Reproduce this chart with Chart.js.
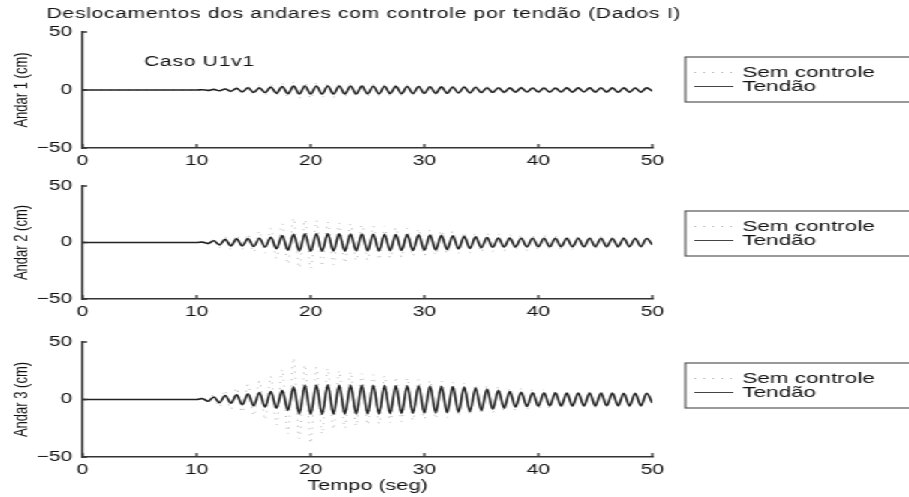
<!DOCTYPE html>
<html>
<head>
<meta charset="utf-8">
<title>Deslocamentos dos andares</title>
<script src="https://cdn.jsdelivr.net/npm/chart.js@4.4.1/dist/chart.umd.min.js"></script>
<style>
  html, body { margin: 0; padding: 0; background: #fff; overflow: hidden; }
  /* the figure is laid out narrow and widened 1.5x, fonts included */
  #figure { position: absolute; left: 0; top: 0; width: 606px; height: 497px; transform: scaleX(1.5); transform-origin: 0 0; }
  #figure canvas { position: absolute; left: 0; top: 0; width: 606px; height: 497px; }
</style>
</head>
<body>
<div id="figure">
  <canvas id="andar1" width="606" height="497"></canvas>
  <canvas id="andar2" width="606" height="497"></canvas>
  <canvas id="andar3" width="606" height="497"></canvas>
</div>
<script>
// time samples (s): flat until 10 s, then every half period
const times = [0,
  10, 10.5, 11, 11.5, 12, 12.5, 13, 13.5, 14, 14.5,
  15, 15.5, 16, 16.5, 17, 17.5, 18, 18.5, 19, 19.5,
  20, 20.5, 21, 21.5, 22, 22.5, 23, 23.5, 24, 24.5,
  25, 25.5, 26, 26.5, 27, 27.5, 28, 28.5, 29, 29.5,
  30, 30.5, 31, 31.5, 32, 32.5, 33, 33.5, 34, 34.5,
  35, 35.5, 36, 36.5, 37, 37.5, 38, 38.5, 39, 39.5,
  40, 40.5, 41, 41.5, 42, 42.5, 43, 43.5, 44, 44.5,
  45, 45.5, 46, 46.5, 47, 47.5, 48, 48.5, 49, 49.5,
  50];

// Andar 1 (cm)
const a1Sem = [0,
  0, 0.5, -0.6, 0.8, -1.0, 1.5, -1.8, 2.4, -3.0, 3.5,
  -4.2, 3.8, -4.5, 5.0, -4.8, 5.6, -6.5, 6.8, -7.2, 6.5,
  -7.5, 6.2, -6.8, 6.0, -6.5, 5.8, -6.0, 5.5, -5.8, 5.2,
  -5.5, 5.0, -5.2, 4.8, -5.0, 4.6, -4.8, 4.5, -4.4, 4.2,
  -4.3, 4.0, -4.1, 3.8, -3.9, 3.6, -3.8, 3.5, -3.6, 3.4,
  -3.3, 3.2, -3.2, 3.0, -3.1, 2.9, -3.0, 2.8, -2.9, 2.8,
  -2.8, 2.7, -2.8, 2.6, -2.7, 2.6, -2.6, 2.5, -2.6, 2.5,
  -2.5, 2.4, -2.5, 2.4, -2.4, 2.3, -2.4, 2.3, -2.3, 2.2,
  -1.2];
const a1Tendao = [0,
  0, 0.2, -0.3, 0.5, -0.7, 0.9, -1.1, 1.4, -1.6, 1.9,
  -2.0, 1.8, -2.2, 2.5, -2.8, 3.0, -3.2, 3.3, -3.4, 3.5,
  -3.5, 3.4, -3.5, 3.5, -3.4, 3.5, -3.5, 3.4, -3.4, 3.3,
  -3.3, 3.2, -3.3, 3.2, -3.1, 3.1, -3.2, 3.0, -3.0, 3.0,
  -2.9, 2.8, -2.9, 2.7, -2.8, 2.6, -2.6, 2.5, -2.5, 2.4,
  -2.2, 2.0, -2.0, 1.9, -1.9, 1.8, -1.8, 1.8, -1.7, 1.7,
  -1.7, 1.7, -1.8, 1.7, -1.7, 1.8, -1.8, 1.8, -1.7, 1.8,
  -1.8, 1.9, -1.8, 1.8, -1.9, 1.8, -1.8, 1.7, -1.8, 1.8,
  -1.0];

// Andar 2 (cm)
const a2Sem = [0,
  0, 1.0, -2.0, 3.2, -4.5, 5.2, -6.0, 6.5, -5.8, 7.5,
  -8.5, 10.2, -9.0, 12.5, -14.0, 16.5, -19.0, 21.5, -22.5, 20.0,
  -23.0, 19.5, -21.0, 18.0, -19.5, 17.0, -18.0, 16.5, -16.0, 15.5,
  -15.5, 14.5, -15.0, 14.0, -13.5, 13.0, -13.0, 12.5, -12.0, 12.0,
  -11.5, 11.0, -11.0, 10.5, -10.0, 10.0, -9.5, 9.0, -9.0, 8.5,
  -8.5, 8.0, -8.0, 7.5, -7.5, 7.5, -7.0, 7.0, -7.0, 6.5,
  -6.5, 6.5, -6.5, 6.0, -6.0, 6.0, -6.0, 5.5, -5.5, 5.5,
  -5.5, 5.5, -5.0, 5.0, -5.0, 5.0, -5.0, 4.5, -4.5, 4.5,
  -2.5];
const a2Tendao = [0,
  0, 0.3, -0.8, 1.5, -2.2, 2.8, -3.0, 3.2, -3.0, 3.4,
  -3.6, 3.8, -4.0, 4.6, -5.5, 6.2, -6.8, 7.2, -7.5, 7.8,
  -7.8, 7.8, -7.6, 7.8, -7.5, 7.6, -7.6, 7.5, -7.4, 7.5,
  -7.4, 7.3, -7.4, 7.2, -7.2, 7.1, -7.0, 7.0, -7.0, 6.8,
  -6.8, 6.6, -6.6, 6.4, -6.3, 6.0, -5.8, 5.5, -5.2, 5.0,
  -4.6, 4.3, -4.2, 4.0, -4.0, 3.9, -3.9, 3.8, -3.9, 3.8,
  -3.8, 3.7, -3.8, 3.8, -3.7, 3.8, -3.8, 3.7, -3.8, 3.8,
  -3.7, 3.8, -3.7, 3.6, -3.7, 3.7, -3.6, 3.6, -3.6, 3.5,
  -2.0];

// Andar 3 (cm)
const a3Sem = [0,
  0, 2.0, -3.5, 5.0, -6.5, 8.0, -8.5, 10.0, -11.0, 13.0,
  -14.0, 16.0, -17.5, 20.0, -22.0, 26.0, -30.0, 36.0, -34.0, 30.0,
  -38.0, 28.0, -30.0, 27.0, -26.0, 25.0, -25.0, 24.0, -23.0, 22.5,
  -22.0, 21.5, -21.0, 20.5, -20.0, 19.5, -19.0, 18.5, -18.0, 17.5,
  -17.0, 16.5, -16.5, 16.0, -15.5, 15.0, -14.5, 14.0, -13.5, 13.0,
  -12.5, 12.0, -11.5, 11.0, -10.5, 10.0, -10.0, 9.5, -9.0, 9.0,
  -8.5, 8.5, -8.0, 8.0, -8.0, 7.5, -7.5, 7.5, -7.0, 7.0,
  -7.0, 7.0, -7.0, 6.5, -6.5, 6.5, -6.5, 6.0, -6.0, 6.0,
  -3.0];
const a3Tendao = [0,
  0, 0.8, -1.5, 2.2, -2.8, 3.5, -3.2, 4.0, -4.5, 5.0,
  -5.5, 6.0, -6.5, 7.0, -7.5, 8.0, -9.5, 11.0, -12.5, 12.5,
  -13.0, 12.5, -13.0, 12.8, -12.8, 12.6, -12.8, 12.5, -12.6, 12.5,
  -12.5, 12.4, -12.5, 12.3, -12.3, 12.2, -12.2, 12.0, -12.0, 12.0,
  -11.8, 11.8, -11.6, 11.5, -11.4, 11.2, -11.0, 10.8, -10.5, 10.0,
  -9.5, 9.0, -8.5, 8.0, -7.5, 7.0, -6.5, 6.2, -6.0, 5.8,
  -5.8, 5.8, -5.6, 5.8, -5.7, 5.6, -5.6, 5.7, -5.6, 5.6,
  -5.6, 5.6, -5.5, 5.6, -5.5, 5.5, -5.5, 5.4, -5.4, 5.4,
  -3.0];

const xTicks = [0, 10, 20, 30, 40, 50];
const yTicks = [-50, 0, 50];
const seriesNames = ['Sem controle', 'Tendão'];
const figTitle = 'Deslocamentos dos andares com controle por tendão (Dados I)';
const caseLabel = 'Caso U1v1';

const panels = [
  { id: 'andar1', yLabel: 'Andar 1 (cm)', sem: a1Sem, tendao: a1Tendao },
  { id: 'andar2', yLabel: 'Andar 2 (cm)', sem: a2Sem, tendao: a2Tendao },
  { id: 'andar3', yLabel: 'Andar 3 (cm)', sem: a3Sem, tendao: a3Tendao }
];

// page layout (unstretched px)
const W = 606, H = 497;
const PLOT_LEFT = 55, PLOT_RIGHT = 435;
const boxes = [
  { top: 32, bottom: 148, legendTop: 57 },
  { top: 186, bottom: 299, legendTop: 211 },
  { top: 342, bottom: 457, legendTop: 363 }
];
const FONT = '"Liberation Sans", Arial, Helvetica, sans-serif';
const INK = '#111';
const AXIS = '#333';
const SEM_COLOR = 'rgba(105,105,105,0.5)';

function toPoints(vals) {
  return times.map((t, i) => ({ x: t, y: vals[i] }));
}

// inward tick marks, boxed legend and free text
const decor = {
  id: 'decor',
  afterDraw(chart, args, opts) {
    const { ctx, chartArea: a, scales: { x, y } } = chart;
    ctx.save();
    ctx.strokeStyle = AXIS;
    ctx.lineWidth = 1.3;
    ctx.beginPath();
    x.ticks.forEach(t => {
      const px = x.getPixelForValue(t.value);
      ctx.moveTo(px, a.bottom);
      ctx.lineTo(px, a.bottom - 4);
    });
    y.ticks.forEach(t => {
      const py = y.getPixelForValue(t.value);
      ctx.moveTo(a.left, py);
      ctx.lineTo(a.left + 3, py);
    });
    ctx.stroke();

    // legend
    const lx = 457, ly = opts.legendTop;
    ctx.strokeStyle = '#555';
    ctx.lineWidth = 1.2;
    ctx.strokeRect(lx, ly, W + 20 - lx, 45);
    const rows = [ly + 15.5, ly + 29.5];
    ctx.lineWidth = 1;
    ctx.strokeStyle = SEM_COLOR;
    ctx.setLineDash([1, 5]);
    ctx.beginPath();
    ctx.moveTo(463, rows[0]);
    ctx.lineTo(489, rows[0]);
    ctx.stroke();
    ctx.setLineDash([]);
    ctx.strokeStyle = '#444';
    ctx.beginPath();
    ctx.moveTo(463, rows[1]);
    ctx.lineTo(489, rows[1]);
    ctx.stroke();
    ctx.fillStyle = INK;
    ctx.font = '15px ' + FONT;
    ctx.textBaseline = 'middle';
    ctx.textAlign = 'left';
    ctx.fillText(seriesNames[0], 495, rows[0]);
    ctx.fillText(seriesNames[1], 495, rows[1]);

    if (opts.first) {
      ctx.font = '14px ' + FONT;
      if ('letterSpacing' in ctx) ctx.letterSpacing = '0.5px';
      ctx.fillText(figTitle, 31, 14);
      ctx.fillText(caseLabel, 96, 62);
    }
    ctx.restore();
  }
};

function makeChart(p, i) {
  const box = boxes[i];
  const last = i === panels.length - 1;
  const xAxisH = last ? H - box.bottom : 22;
  return new Chart(document.getElementById(p.id), {
    type: 'line',
    data: {
      datasets: [
        { label: seriesNames[1], data: toPoints(p.tendao), borderColor: '#222', borderWidth: 1.6 },
        { label: seriesNames[0], data: toPoints(p.sem), borderColor: SEM_COLOR, borderWidth: 1, borderDash: [1, 5] }
      ]
    },
    options: {
      responsive: false,
      animation: false,
      devicePixelRatio: 1,
      events: [],
      elements: {
        point: { radius: 0 },
        line: { cubicInterpolationMode: 'monotone', fill: false }
      },
      layout: {
        padding: { left: 0, right: W - PLOT_RIGHT, top: box.top, bottom: H - box.bottom - xAxisH }
      },
      plugins: {
        legend: { display: false },
        tooltip: { enabled: false },
        decor: { legendTop: box.legendTop, first: i === 0 }
      },
      scales: {
        x: {
          type: 'linear',
          min: 0,
          max: 50,
          afterBuildTicks: s => { s.ticks = xTicks.map(v => ({ value: v })); },
          afterFit: s => { s.height = xAxisH; },
          grid: { display: false, drawTicks: false },
          border: { display: true, color: AXIS, width: 1.4 },
          ticks: { padding: 5, maxRotation: 0, color: INK, font: { family: FONT, size: 14 } },
          title: {
            display: last,
            text: 'Tempo (seg)',
            color: INK,
            font: { family: FONT, size: 14.5 },
            padding: { top: 0, bottom: 2 }
          }
        },
        y: {
          type: 'linear',
          min: -50,
          max: 50,
          afterBuildTicks: s => { s.ticks = yTicks.map(v => ({ value: v })); },
          afterFit: s => { s.width = PLOT_LEFT; },
          grid: { display: false, drawTicks: false },
          border: { display: true, color: AXIS, width: 1.4 },
          ticks: {
            padding: 7,
            color: INK,
            font: { family: FONT, size: 14 },
            callback: v => String(v).replace('-', '\u2212')
          },
          title: {
            display: true,
            text: p.yLabel,
            color: INK,
            font: { family: FONT, size: 13 },
            padding: { top: 7, bottom: 0 }
          }
        }
      }
    },
    plugins: [decor]
  });
}

panels.forEach(makeChart);
</script>
</body>
</html>
